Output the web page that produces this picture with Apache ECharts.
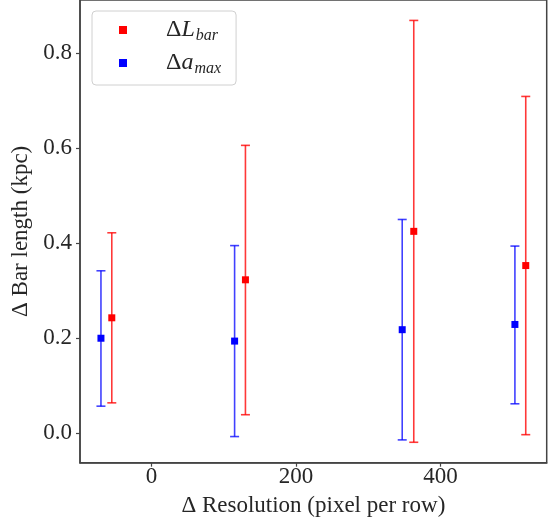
<!DOCTYPE html>
<html>
<head>
<meta charset="utf-8">
<script src="https://cdn.jsdelivr.net/npm/echarts@6/dist/echarts.min.js"></script>
<style>html,body{margin:0;padding:0;background:#fff}#c{width:554px;height:524px}</style>
</head>
<body>
<div id="c"></div>
<script>
// Δa_max (blue)
const blueX = [-70, 115, 347, 503];
const blueY = [0.200, 0.194, 0.218, 0.229];
const blueLow = [0.057, -0.007, -0.014, 0.062];
const blueHigh = [0.342, 0.395, 0.450, 0.394];
// ΔL_bar (red)
const redX = [-55, 130, 363, 518];
const redY = [0.243, 0.323, 0.425, 0.353];
const redLow = [0.064, 0.039, -0.019, -0.003];
const redHigh = [0.422, 0.606, 0.869, 0.709];

const xTicks = [0, 200, 400];
const yTicks = [0.0, 0.2, 0.4, 0.6, 0.8];

const FONT = '"Liberation Serif", "DejaVu Serif", serif';
const TXT = '#262626';

function errData(xs, ys, lo, hi) {
  return xs.map((x, i) => [x, ys[i], lo[i], hi[i]]);
}
function errSeries(name, data, color) {
  return {
    type: 'custom', name: name, data: data, z: 2, silent: true,
    encode: { x: 0, y: [2, 3] },
    renderItem: function (params, api) {
      const x = api.value(0);
      const p1 = api.coord([x, api.value(3)]);
      const p2 = api.coord([x, api.value(2)]);
      const cw = 4.5;
      const st = { stroke: color, lineWidth: 1.6 };
      return { type: 'group', children: [
        { type: 'line', shape: { x1: p1[0], y1: p1[1], x2: p2[0], y2: p2[1] }, style: st },
        { type: 'line', shape: { x1: p1[0] - cw, y1: p1[1], x2: p1[0] + cw, y2: p1[1] }, style: st },
        { type: 'line', shape: { x1: p2[0] - cw, y1: p2[1], x2: p2[0] + cw, y2: p2[1] }, style: st }
      ] };
    }
  };
}

const chart = echarts.init(document.getElementById('c'), null, { renderer: 'canvas' });
chart.setOption({
  animation: false,
  backgroundColor: '#fff',
  grid: { left: 80, right: 7.3, top: 0, bottom: 61.3, containLabel: false, outerBoundsMode: 'none',
          show: true, borderColor: '#444', borderWidth: 1.5, backgroundColor: 'transparent' },
  xAxis: {
    type: 'value', min: -99, max: 547,
    name: 'Δ Resolution (pixel per row)', nameLocation: 'middle', nameGap: 32,
    nameTextStyle: { fontFamily: FONT, fontSize: 23, color: TXT },
    axisLine: { show: true, onZero: false, lineStyle: { color: '#444', width: 1.5 } },
    axisTick: { show: true, length: 4, inside: false, customValues: xTicks, lineStyle: { color: '#444', width: 1.2 } },
    axisLabel: { customValues: xTicks, fontFamily: FONT, fontSize: 23, color: TXT, margin: 3 },
    splitLine: { show: false }
  },
  yAxis: {
    type: 'value', min: -0.062, max: 0.912,
    name: 'Δ Bar length (kpc)', nameLocation: 'middle', nameGap: 44, nameRotate: 90,
    nameTextStyle: { fontFamily: FONT, fontSize: 23, color: TXT },
    axisLine: { show: true, onZero: false, lineStyle: { color: '#444', width: 1.5 } },
    axisTick: { show: true, length: 4, inside: false, customValues: yTicks, lineStyle: { color: '#444', width: 1.2 } },
    axisLabel: { customValues: yTicks, fontFamily: FONT, fontSize: 23, color: TXT, margin: 8,
                 formatter: v => v.toFixed(1) },
    splitLine: { show: false }
  },
  legend: {
    left: 92, top: 11, orient: 'vertical',
    data: ['ΔL_bar', 'Δa_max'],
    icon: 'path://M0,0L10,0L10,10L0,10Z',
    itemWidth: 8, itemHeight: 8, itemGap: 5,
    padding: [5, 15, 8, 27],
    borderColor: '#d0d0d0', borderWidth: 1, borderRadius: 4, backgroundColor: '#fff',
    formatter: function (name) {
      return name === 'ΔL_bar' ? '{d|Δ}{m|L}{s|bar}' : '{d|Δ}{m|a}{s|max}';
    },
    textStyle: {
      fontFamily: FONT, color: TXT,
      rich: {
        d: { fontFamily: FONT, fontSize: 24, lineHeight: 27, padding: [0, 0, 0, 34], color: TXT },
        m: { fontFamily: FONT, fontSize: 24, fontStyle: 'italic', lineHeight: 27, color: TXT },
        s: { fontFamily: FONT, fontSize: 16, fontStyle: 'italic', lineHeight: 16, padding: [12, 0, 0, 1], color: TXT }
      }
    }
  },
  series: [
    errSeries('errRed', errData(redX, redY, redLow, redHigh), 'rgba(255,0,0,0.78)'),
    errSeries('errBlue', errData(blueX, blueY, blueLow, blueHigh), 'rgba(0,0,255,0.75)'),
    { type: 'scatter', name: 'ΔL_bar', data: redX.map((x, i) => [x, redY[i]]), symbol: 'rect', symbolSize: 7,
      itemStyle: { color: '#ff0000', opacity: 1 }, z: 5 },
    { type: 'scatter', name: 'Δa_max', data: blueX.map((x, i) => [x, blueY[i]]), symbol: 'rect', symbolSize: 7,
      itemStyle: { color: '#0000ff', opacity: 1 }, z: 5 }
  ]
});
</script>
</body>
</html>
